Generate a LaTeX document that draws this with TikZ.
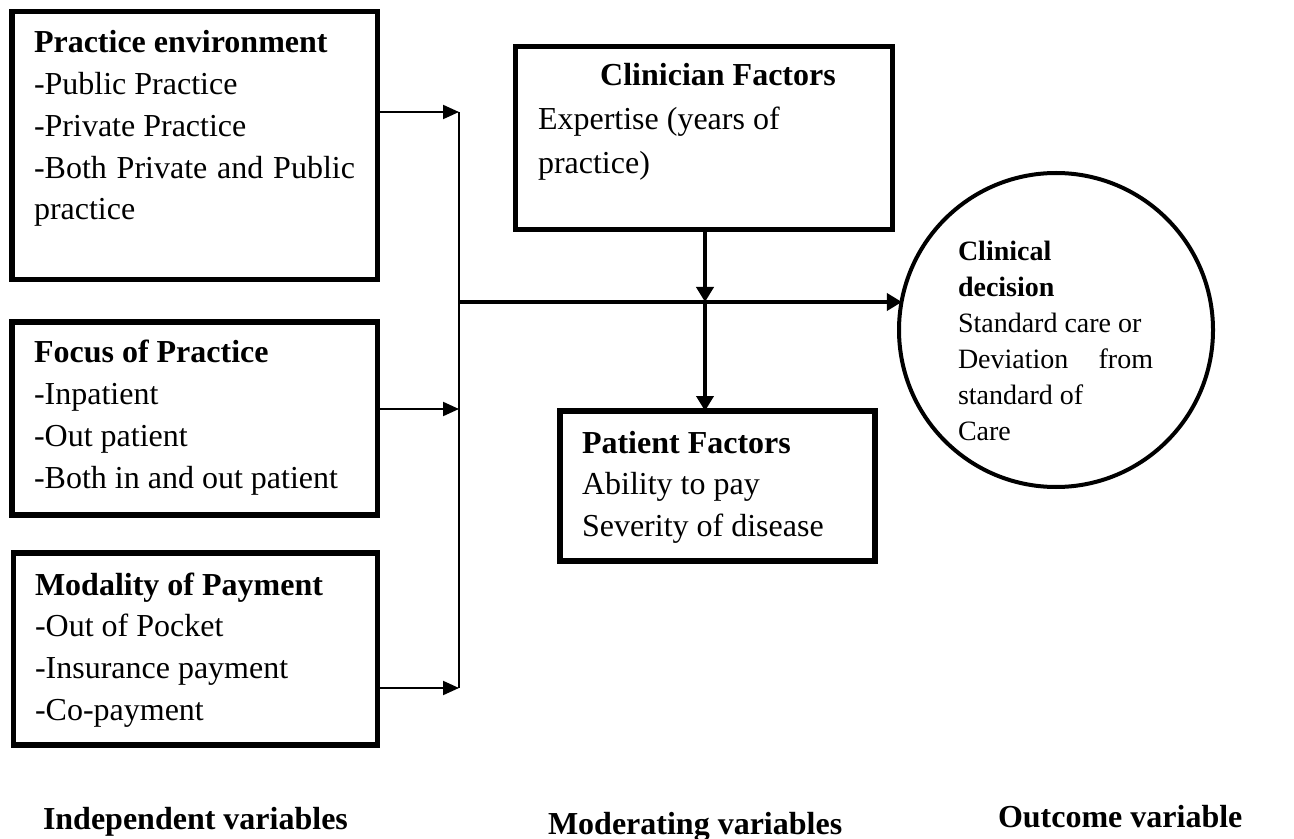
\documentclass[tikz,border=0pt]{standalone}
\usepackage{fontspec}
\setmainfont{Liberation Serif}
\usetikzlibrary{arrows.meta}
\begin{document}
\begin{tikzpicture}[x=0.5pt,y=-0.5pt,
  box/.style={draw, line width=2.75pt, inner sep=0pt, outer sep=0pt},
  outcome/.style={draw, circle, line width=2pt, inner sep=0pt, outer sep=0pt, minimum size=157pt},
  txt/.style={anchor=base west, inner sep=0pt, outer sep=0pt, font=\fontsize{16}{20.85}\selectfont},
  ctxt/.style={anchor=base west, inner sep=0pt, outer sep=0pt, font=\fontsize{14}{18}\selectfont},
  lbl/.style={anchor=base west, inner sep=0pt, outer sep=0pt, font=\fontsize{16}{20}\selectfont\bfseries},
  thinarrow/.style={line width=1pt, -{Triangle[length=8pt,width=7pt]}},
  bus/.style={line width=0.8pt},
  thickarrow/.style={line width=2.25pt, -{Triangle[length=7.5pt,width=8.5pt]}}
]
\useasboundingbox (0,0) rectangle (1294,839);

% boxes
\node[box, minimum width=182.75pt, minimum height=134pt] (pe) at (194.75,145.5) {};
\node[box, minimum width=182.75pt, minimum height=96.5pt] (fp) at (194.75,418.5) {};
\node[box, minimum width=182pt, minimum height=96pt] (mp) at (195.5,649) {};
\node[box, minimum width=188.5pt, minimum height=91.5pt] (cf) at (704,138) {};
\node[box, minimum width=157.5pt, minimum height=75pt] (pf) at (717.5,486) {};
\node[outcome] (cd) at (1056,330) {};

% texts
\node[txt] (pet) at (34,53) {\parbox[t]{180pt}{\raggedright\textbf{Practice environment}\\-Public Practice\\-Private Practice\\\makebox[160.5pt][s]{-Both Private and Public}\\practice}};
\node[txt] (fpt) at (34,363) {\parbox[t]{180pt}{\raggedright\textbf{Focus of Practice}\\-Inpatient\\-Out patient\\-Both in and out patient}};
\node[txt] (mpt) at (35,595) {\parbox[t]{180pt}{\raggedright\textbf{Modality of Payment}\\-Out of Pocket\\-Insurance payment\\-Co-payment}};
\node[txt, anchor=base] (cfh) at (718,86) {\textbf{Clinician Factors}};
\node[txt] (cfb) at (538,130) {\parbox[t]{180pt}{\raggedright\baselineskip=22pt Expertise (years of\\practice)}};
\node[txt] (pft) at (582,453) {\parbox[t]{160pt}{\raggedright\textbf{Patient Factors}\\Ability to pay\\Severity of disease}};
\node[ctxt] (cdt) at (958,261) {\parbox[t]{100pt}{\raggedright\textbf{Clinical}\\\textbf{decision}\\Standard care or\\\makebox[97.5pt][s]{Deviation from}\\standard of\\Care}};

% bottom labels
\node[lbl] (iv) at (43,829) {Independent variables};
\node[lbl] (mv) at (548,834) {Moderating variables};
\node[lbl] (ov) at (998,827) {Outcome variable};

% bus
\coordinate (b1) at (459,112);
\coordinate (b2) at (459,409);
\coordinate (b3) at (459,688);
\coordinate (bm) at (459,302);
\coordinate (j) at (705,302);

\draw[bus] (b1) -- (b3);
\draw[thinarrow] (pe.east |- b1) -- (b1);
\draw[thinarrow] (fp.east |- b2) -- (b2);
\draw[thinarrow] (mp.east |- b3) -- (b3);

\draw[thickarrow] (bm) -- (bm -| cd.169.7);
\draw[thickarrow] (cf.south -| j) -- (j);
\draw[thickarrow] (j) -- (pf.north -| j);
\end{tikzpicture}
\end{document}
